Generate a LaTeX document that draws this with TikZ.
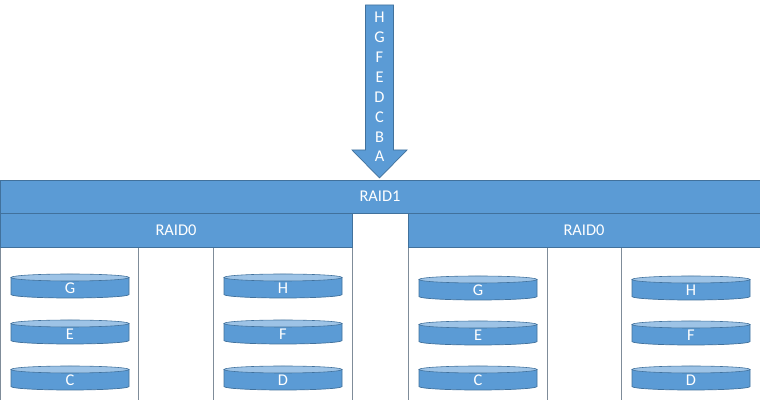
\documentclass[tikz,border=0pt]{standalone}
\usepackage{fontspec}
\setmainfont{Carlito}
\usepackage{tikz}
\usetikzlibrary{calc}
\definecolor{raidblue}{HTML}{5B9BD5}
\definecolor{raidedge}{HTML}{41719C}
\definecolor{disktop}{HTML}{9DC3E6}
\definecolor{boxline}{HTML}{7F8C99}

% one disk: name, x, y, label
\newcommand{\disk}[4]{%
  \filldraw[diskbody] (#2-59,#3+10.5) -- (#2-59,#3-6.5)
    arc[start angle=180,end angle=360,x radius=59,y radius=3.5]
    -- (#2+59,#3+10.5) -- cycle;
  \filldraw[disktopface] (#2,#3+10.5) ellipse[x radius=59,y radius=3.5];
  \node[lbl] (#1) at (#2,#3) {#4};
}

\begin{document}
\begin{tikzpicture}[x=0.03cm,y=0.03cm,
  lbl/.style={text=white,font=\fontsize{14}{17}\selectfont,inner sep=0pt},
  bar/.style={fill=raidblue,draw=raidedge,line width=0.6pt},
  diskbody/.style={fill=raidblue,draw=raidedge,line width=0.6pt},
  disktopface/.style={fill=disktop,draw=raidedge,line width=0.5pt},
  frame/.style={draw=boxline,line width=0.7pt}]
\useasboundingbox (0,0) rectangle (760,400);

% incoming data
\filldraw[bar] (365.5,395) -- (365.5,250) -- (352,250) -- (379.5,222)
  -- (407,250) -- (393.5,250) -- (393.5,395) -- cycle;
\node[lbl,align=center] (data) at (379.5,313) {H\\G\\F\\E\\D\\C\\B\\A};

% disk frames
\draw[frame] (0,-5) rectangle (352,153);
\draw[frame] (138,153) -- (138,-5);
\draw[frame] (213,153) -- (213,-5);
\draw[frame] (408,-5) rectangle (760,153);
\draw[frame] (547,153) -- (547,-5);
\draw[frame] (621,153) -- (621,-5);

% mirror and stripes
\filldraw[bar] (0,187) rectangle (760,220);
\node[lbl] (raid1) at (380,203.5) {RAID1};
\filldraw[bar] (0,153) rectangle (352,187);
\node[lbl] (leftraid) at (176,170) {RAID0};
\filldraw[bar] (408,153) rectangle (760,187);
\node[lbl] (rightraid) at (584,170) {RAID0};

% disks
\disk{lg}{70}{112}{G}
\disk{le}{70}{66}{E}
\disk{lc}{70}{20}{C}
\disk{lh}{283}{112}{H}
\disk{lf}{283}{66}{F}
\disk{ld}{283}{20}{D}
\disk{rg}{478}{110}{G}
\disk{re}{478}{65}{E}
\disk{rc}{478}{20}{C}
\disk{rh}{691}{110}{H}
\disk{rf}{691}{65}{F}
\disk{rd}{691}{20}{D}
\end{tikzpicture}
\end{document}
